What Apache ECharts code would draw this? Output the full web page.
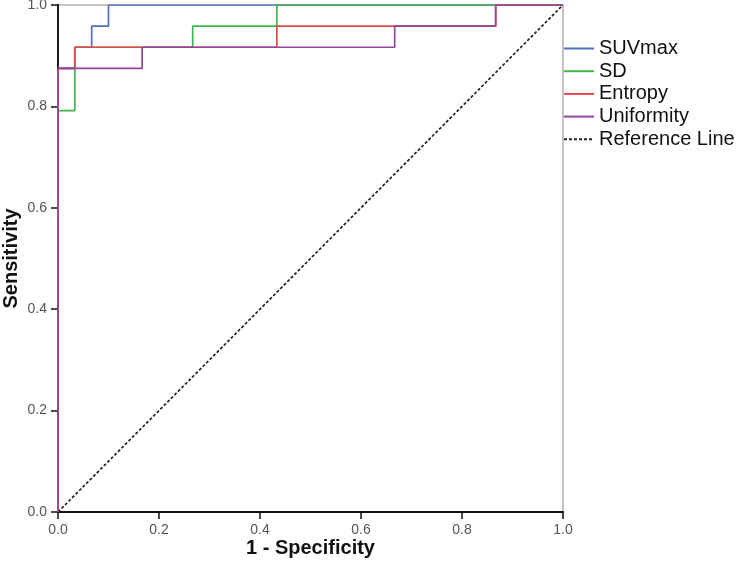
<!DOCTYPE html>
<html><head><meta charset="utf-8">
<script src="https://cdn.jsdelivr.net/npm/echarts@6/dist/echarts.min.js"></script>
<style>html,body{margin:0;padding:0;background:#fff}#c{width:742px;height:568px}</style>
</head><body><div id="c"></div>
<script>
const seriesNames = ['SUVmax', 'SD', 'Entropy', 'Uniformity', 'Reference Line'];
const seriesColors = ['#4e6fc4', '#3fb84a', '#e8474a', '#93449f', '#222222'];
// 1 - Specificity (x) and Sensitivity (y) for each ROC curve
const suvmaxX = [0, 0, 0.0333, 0.0333, 0.0667, 0.0667, 0.1, 0.1, 1];
const suvmaxY = [0, 0.875, 0.875, 0.9167, 0.9167, 0.9583, 0.9583, 1, 1];
const sdX = [0, 0, 0.0333, 0.0333, 0.2667, 0.2667, 0.4333, 0.4333, 1];
const sdY = [0, 0.7917, 0.7917, 0.9167, 0.9167, 0.9583, 0.9583, 1, 1];
const entropyX = [0, 0, 0.0333, 0.0333, 0.4333, 0.4333, 0.8667, 0.8667, 1];
const entropyY = [0, 0.875, 0.875, 0.9167, 0.9167, 0.9583, 0.9583, 1, 1];
const uniformityX = [0, 0, 0.1667, 0.1667, 0.6667, 0.6667, 0.8667, 0.8667, 1];
const uniformityY = [0, 0.875, 0.875, 0.9167, 0.9167, 0.9583, 0.9583, 1, 1];
const refX = [0, 1];
const refY = [0, 1];
const tickValues = [0, 0.2, 0.4, 0.6, 0.8, 1.0];

const pairs = (xs, ys) => xs.map((x, i) => [x, ys[i]]);
const curves = [
  pairs(suvmaxX, suvmaxY), pairs(sdX, sdY), pairs(entropyX, entropyY),
  pairs(uniformityX, uniformityY), pairs(refX, refY)
];

const font = '"Liberation Sans", Arial, sans-serif';
const chart = echarts.init(document.getElementById('c'), null, {renderer: 'canvas'});
const axisCommon = {
  type: 'value', min: 0, max: 1, interval: 0.2,
  axisLine: {show: true, onZero: false, lineStyle: {color: '#111', width: 2}},
  axisTick: {show: true, inside: false, length: 7, lineStyle: {color: '#111', width: 1.5}},
  axisLabel: {color: '#555', fontSize: 14, fontFamily: font, margin: 11, formatter: v => v.toFixed(1)},
  splitLine: {show: false},
  nameLocation: 'middle',
  nameMoveOverlap: false,
  nameTextStyle: {color: '#111', fontSize: 20, fontWeight: 'bold', fontFamily: font}
};
chart.setOption({
  animation: false,
  grid: {left: 58, top: 5, right: 179, bottom: 56, outerBoundsMode: 'none', containLabel: false,
         show: true, borderColor: '#888', borderWidth: 1, backgroundColor: 'transparent'},
  xAxis: [Object.assign({}, axisCommon, {name: '1 - Specificity', nameGap: 26})],
  yAxis: [
    Object.assign({}, axisCommon, {name: 'Sensitivity', nameGap: 37}),
    {type: 'value', min: 0, max: 1, position: 'right', axisLine: {show: true, lineStyle: {color: '#222', width: 1.5}},
     axisTick: {show: false}, axisLabel: {show: false}, splitLine: {show: false}}
  ],
  legend: {
    orient: 'vertical', left: 563, top: 38, padding: 0,
    itemWidth: 30, itemHeight: 14, itemGap: 1.7,
    itemStyle: {opacity: 0},
    textStyle: {color: '#111', fontSize: 20, lineHeight: 21, fontFamily: font},
    data: seriesNames
  },
  series: curves.map((d, i) => ({
    name: seriesNames[i], type: 'line', data: d, symbol: 'none',
    lineStyle: {color: seriesColors[i], width: 1.7, type: i === 4 ? [3, 2] : 'solid'},
    itemStyle: {color: seriesColors[i]},
    z: i === 4 ? 1 : 2 + i
  }))
});
</script></body></html>
